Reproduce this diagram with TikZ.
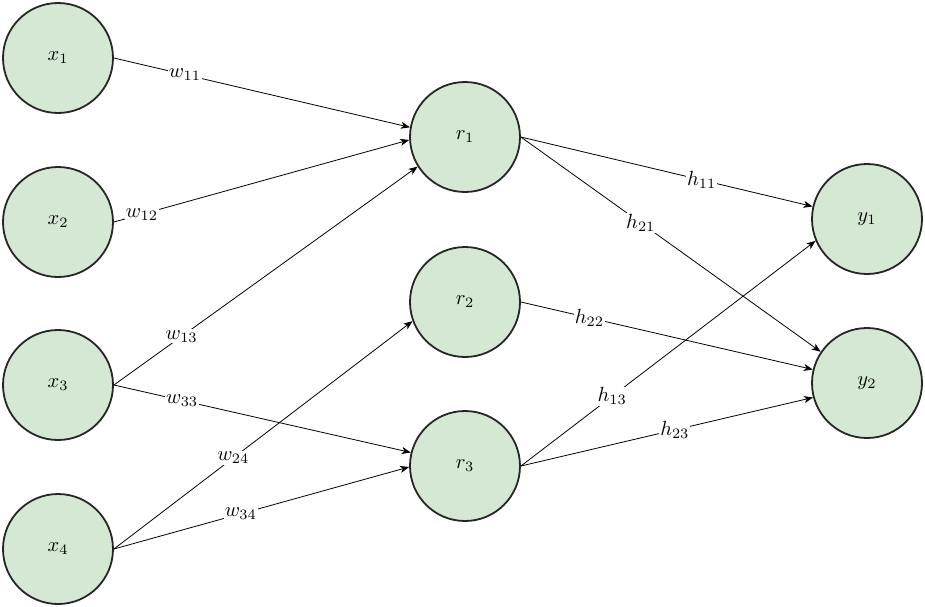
\documentclass[tikz,border=0pt]{standalone}
\usetikzlibrary{arrows.meta}
\definecolor{nodefill}{HTML}{D5E8D4}
\definecolor{nodeline}{HTML}{262626}
\newcommand\lbl[1]{\scalebox{2.05}{$#1$}}
\begin{document}
\begin{tikzpicture}[x=1pt,y=-1pt,
  neuron/.style={circle, draw=nodeline, fill=nodefill, line width=1.8pt, minimum size=110pt, inner sep=0pt},
  conn/.style={line width=0.8pt, draw=black, -{Stealth[length=9pt,width=7pt,inset=2.5pt]}},
  wlab/.style={fill=white, inner sep=1pt}]
\useasboundingbox (0,0) rectangle (925,606);
\node[neuron] (x1) at (58,58) {\lbl{x_1}};
\node[neuron] (x2) at (58,222) {\lbl{x_2}};
\node[neuron] (x3) at (58,385) {\lbl{x_3}};
\node[neuron] (x4) at (58,549) {\lbl{x_4}};
\node[neuron] (r1) at (465,137) {\lbl{r_1}};
\node[neuron] (r2) at (465,302) {\lbl{r_2}};
\node[neuron] (r3) at (465,466) {\lbl{r_3}};
\node[neuron] (y1) at (867,219) {\lbl{y_1}};
\node[neuron] (y2) at (867,383) {\lbl{y_2}};
\draw[conn] (x1.east) -- node[wlab, pos=0.24] {\lbl{w_{11}}} (r1.170);
\draw[conn] (x2.east) -- node[wlab, pos=0.095] {\lbl{w_{12}}} (r1.183);
\draw[conn] (x3.east) -- node[wlab, pos=0.223] {\lbl{w_{13}}} (r1.212);
\draw[conn] (x3.east) -- node[wlab, pos=0.23] {\lbl{w_{33}}} (r3.166);
\draw[conn] (x4.east) -- node[wlab, pos=0.40] {\lbl{w_{24}}} (r2.200);
\draw[conn] (x4.east) -- node[wlab, pos=0.43] {\lbl{w_{34}}} (r3.181);
\draw[conn] (r1.east) -- node[wlab, pos=0.62] {\lbl{h_{11}}} (y1.167);
\draw[conn] (r1.east) -- node[wlab, pos=0.40] {\lbl{h_{21}}} (y2.146);
\draw[conn] (r2.east) -- node[wlab, pos=0.235] {\lbl{h_{22}}} (y2.166);
\draw[conn] (r3.east) -- node[wlab, pos=0.31] {\lbl{h_{13}}} (y1.203);
\draw[conn] (r3.east) -- node[wlab, pos=0.527] {\lbl{h_{23}}} (y2.195);
\end{tikzpicture}
\end{document}
